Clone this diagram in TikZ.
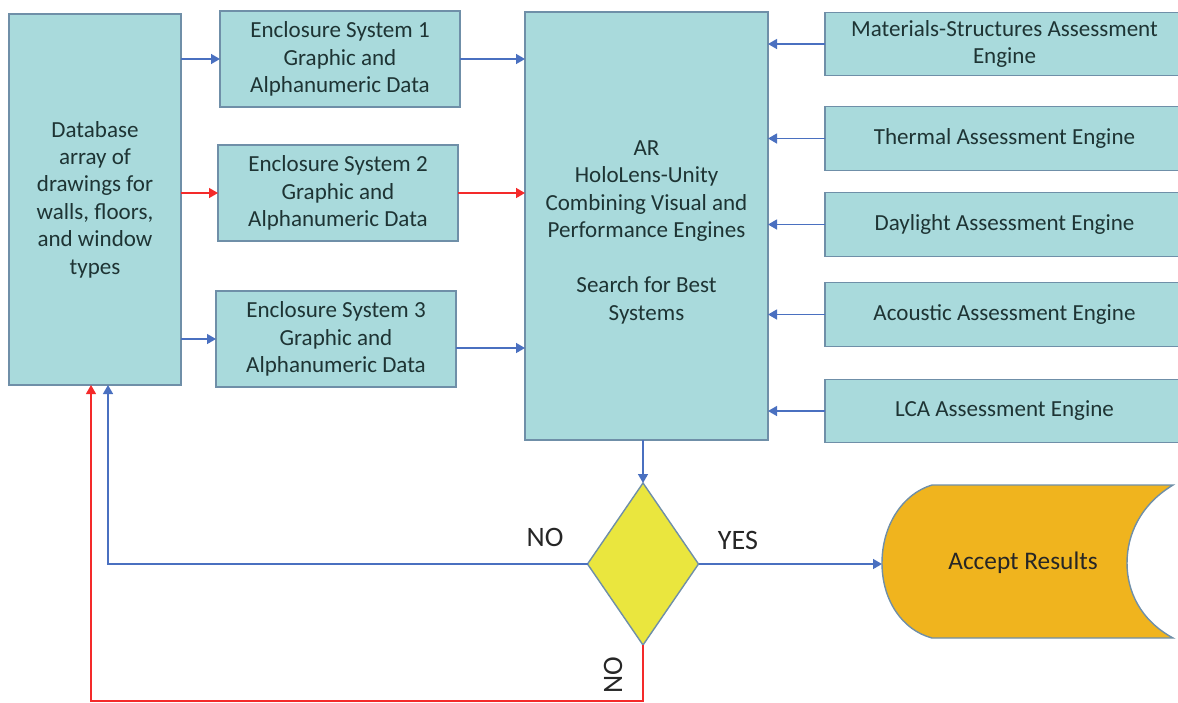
\documentclass[tikz,border=0pt]{standalone}
\usepackage{fontspec}
\setmainfont{Carlito}
\usetikzlibrary{arrows.meta,shapes.geometric}

\definecolor{boxfill}{HTML}{A9DADC}
\definecolor{boxline}{HTML}{6F8FA8}
\definecolor{boxtext}{HTML}{1E3434}
\definecolor{arrowblue}{HTML}{4A70C0}
\definecolor{arrowred}{HTML}{F42A2A}
\definecolor{decfill}{HTML}{EAE63E}
\definecolor{accfill}{HTML}{F0B41E}

\begin{document}
\begin{tikzpicture}[x=0.2mm,y=-0.2mm,inner sep=0pt,outer sep=0pt,
block/.style={draw=boxline,fill=boxfill,line width=0.8pt,align=center,text=boxtext,font=\fontsize{13.1}{15.6}\selectfont},
encl/.style={block,minimum width=4.8cm,minimum height=1.92cm},
engine/.style={block,minimum width=7.18cm,minimum height=1.27cm},
flow/.style={draw=arrowblue,line width=0.8pt,-{Triangle[length=0.18cm,width=0.2cm]}},
redflow/.style={flow,draw=arrowred},
answer/.style={text=black!85,font=\fontsize{16}{18}\selectfont}]

\useasboundingbox (0,0) rectangle (1178,702);

\draw (95,199.5) node[block,minimum width=3.44cm,minimum height=7.42cm] (db) {Database\\array of\\drawings for\\walls, floors,\\and window\\types};

\draw (340,59) node[encl] (enc1) {Enclosure System 1\\Graphic and\\Alphanumeric Data};
\draw (338,193) node[encl] (enc2) {Enclosure System 2\\Graphic and\\Alphanumeric Data};
\draw (336,339) node[encl] (enc3) {Enclosure System 3\\Graphic and\\Alphanumeric Data};

\draw (646.5,226) node[block,minimum width=4.86cm,minimum height=8.56cm] (ar) {\rule{0pt}{15.5pt}AR\\HoloLens-Unity\\Combining Visual and\\Performance Engines\\[15.6pt]Search for Best\\Systems};

\draw (1004.5,44) node[engine] (mat) {Materials-Structures Assessment\\Engine};
\draw (1004.5,138.5) node[engine] (therm) {Thermal Assessment Engine};
\draw (1004.5,224.5) node[engine] (day) {Daylight Assessment Engine};
\draw (1004.5,314.5) node[engine] (acou) {Acoustic Assessment Engine};
\draw (1004.5,411) node[engine] (lca) {LCA Assessment Engine};

\draw (643,564) node[draw=boxline,fill=decfill,diamond,line width=0.8pt,minimum width=2.22cm,minimum height=3.24cm] (dec) {};

% accept results (stored data shape)
\filldraw[draw=boxline,fill=accfill,line width=0.8pt] (932,485) -- (1173,485)
  .. controls (1140,505) and (1127,535) .. (1127,563)
  .. controls (1127,591) and (1140,620) .. (1173,638) -- (932,638)
  .. controls (902,630) and (882,600) .. (882,563)
  .. controls (882,526) and (902,494) .. (932,485) -- cycle;
\draw (1023,563) node[text=black!85,font=\fontsize{14.4}{17}\selectfont] (acc) {Accept Results};
\coordinate (accin) at (882,564);
\coordinate (redbot) at (643,701);

\draw[flow] (db.east |- enc1.west) -- (enc1.west);
\draw[redflow] (db.east |- enc2.west) -- (enc2.west);
\draw[flow] (db.east |- enc3.west) -- (enc3.west);
\draw[flow] (enc1.east) -- (enc1.east -| ar.west);
\draw[redflow] (enc2.east) -- (enc2.east -| ar.west);
\draw[flow] ([yshift=-0.18cm]enc3.east) -- ([yshift=-0.18cm]enc3.east -| ar.west);
\foreach \n in {mat,therm,day,acou,lca}
  \draw[flow] (\n.west) -- (\n.west -| ar.east);

\draw[flow] (ar.south -| dec.north) -- (dec.north);
\draw[flow] (dec.east) -- (accin);
\draw[flow] (dec.west) -| ([xshift=0.26cm]db.south);
\draw[redflow,line width=0.6pt] (dec.south) -- (redbot) -| ([xshift=-0.08cm]db.south);

\draw (545,537) node[answer] (no1) {NO};
\draw (738,540) node[answer] (yes) {YES};
\draw (613,675) node[answer,rotate=90] (no2) {NO};
\end{tikzpicture}
\end{document}
